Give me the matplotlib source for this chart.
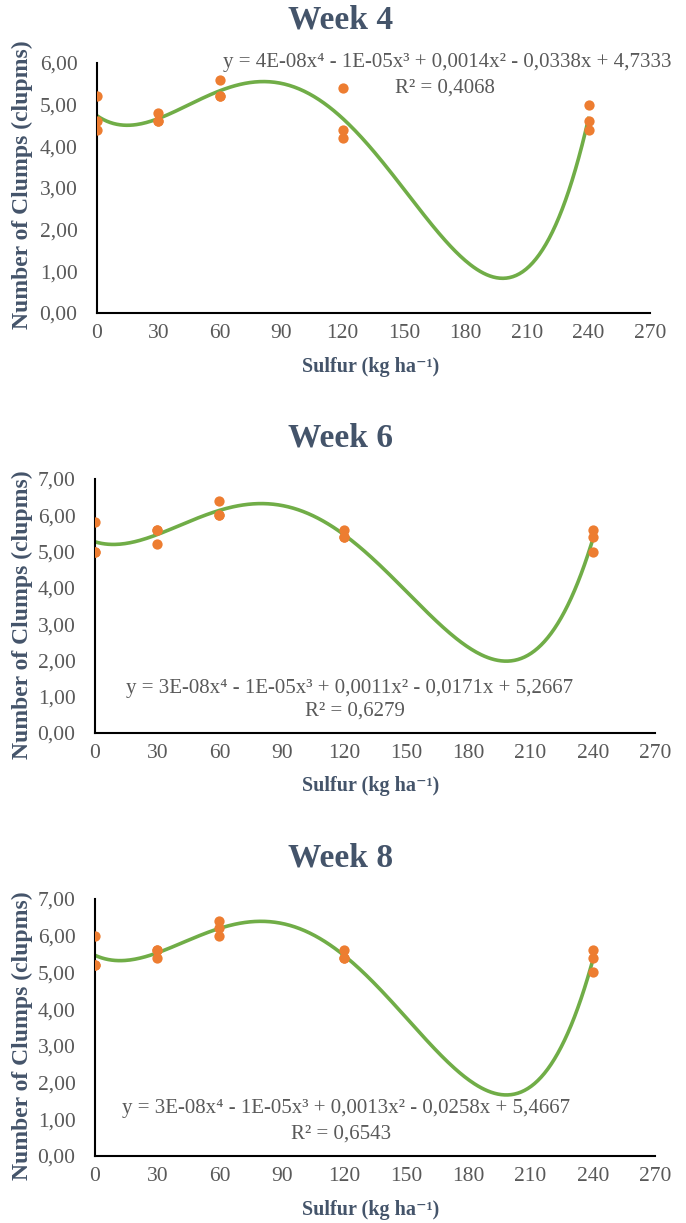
import numpy as np
import matplotlib
matplotlib.use("Agg")
import matplotlib.pyplot as plt

# sulfur doses (kg/ha), three replicates per dose
sulfur = [0, 0, 0, 30, 30, 30, 60, 60, 60, 120, 120, 120, 240, 240, 240]

clumps_w4 = [5.2, 4.6, 4.4, 4.8, 4.6, 4.6, 5.6, 5.2, 5.2, 5.4, 4.4, 4.2, 5.0, 4.6, 4.4]
clumps_w6 = [5.8, 5.0, 5.0, 5.6, 5.6, 5.2, 6.4, 6.0, 6.0, 5.6, 5.4, 5.4, 5.6, 5.4, 5.0]
clumps_w8 = [6.0, 5.2, 5.2, 5.6, 5.6, 5.4, 6.4, 6.2, 6.0, 5.6, 5.4, 5.4, 5.6, 5.4, 5.0]

titles = ["Week 4", "Week 6", "Week 8"]
equations = [
    "y = 4E-08x\u2074 - 1E-05x\u00b3 + 0,0014x\u00b2 - 0,0338x + 4,7333",
    "y = 3E-08x\u2074 - 1E-05x\u00b3 + 0,0011x\u00b2 - 0,0171x + 5,2667",
    "y = 3E-08x\u2074 - 1E-05x\u00b3 + 0,0013x\u00b2 - 0,0258x + 5,4667",
]
r2_labels = ["R\u00b2 = 0,4068", "R\u00b2 = 0,6279", "R\u00b2 = 0,6543"]
ymax = [6, 7, 7]
xticks = [0, 30, 60, 90, 120, 150, 180, 210, 240, 270]

serif = ["Liberation Serif", "DejaVu Serif"]
dark = "#44546A"
grey = "#595959"
orange = "#ED7D31"
green = "#70AD47"

fig = plt.figure(figsize=(6.86, 12.23), dpi=100)

# axes boxes [left, bottom, width, height] in figure fraction
boxes = [
    [0.1414, 0.7441, 0.8061, 0.2044],
    [0.1385, 0.4007, 0.8163, 0.2077],
    [0.1385, 0.0548, 0.8163, 0.2101],
]
title_y = [0.9836, 0.6419, 0.2984]
xlab_y = [0.700, 0.357, 0.011]
ylab_y = [0.849, 0.497, 0.153]
eq_pos = [(0.652, 0.949), (0.510, 0.437), (0.504, 0.094)]
r2_pos = [(0.648, 0.928), (0.518, 0.419), (0.497, 0.073)]

for i, y in enumerate([clumps_w4, clumps_w6, clumps_w8]):
    ax = fig.add_axes(boxes[i])
    # 4th order polynomial trendline
    coef = np.polyfit(sulfur, y, 4)
    xs = np.linspace(0, 240, 300)
    ax.plot(xs, np.polyval(coef, xs), color=green, lw=2.6, zorder=2)
    ax.plot(sulfur, y, "o", color=orange, ms=7.4, mec="none", zorder=3)

    ax.set_xlim(0, 270)
    ax.set_ylim(0, ymax[i])
    ax.set_xticks(xticks)
    ax.set_yticks(np.arange(0, ymax[i] + 1, 1))
    ax.set_yticklabels(["%d,00" % v for v in range(0, ymax[i] + 1)])
    for lab in ax.get_xticklabels() + ax.get_yticklabels():
        lab.set_family(serif)
        lab.set_fontsize(15.5)
        lab.set_color(grey)
    ax.tick_params(axis="x", length=0, pad=8)
    ax.tick_params(axis="y", length=0, pad=14)
    ax.spines["top"].set_visible(False)
    ax.spines["right"].set_visible(False)
    ax.spines["left"].set_linewidth(1.5)
    ax.spines["bottom"].set_linewidth(1.5)

    fig.text(0.497, title_y[i], titles[i], ha="center", va="center",
             family=serif, fontsize=24, fontweight="bold", color=dark)
    fig.text(0.54, xlab_y[i], "Sulfur (kg ha\u207b\u00b9)", ha="center", va="center",
             family=serif, fontsize=14.5, fontweight="bold", color=dark)
    fig.text(0.032, ylab_y[i], "Number of Clumps (clupms)", ha="center", va="center",
             rotation=90, family=serif, fontsize=17, fontweight="bold", color=dark)
    fig.text(eq_pos[i][0], eq_pos[i][1], equations[i], ha="center", va="center",
             family=serif, fontsize=15, color=grey)
    fig.text(r2_pos[i][0], r2_pos[i][1], r2_labels[i], ha="center", va="center",
             family=serif, fontsize=15, color=grey)

fig.savefig("out.png", dpi=100)
